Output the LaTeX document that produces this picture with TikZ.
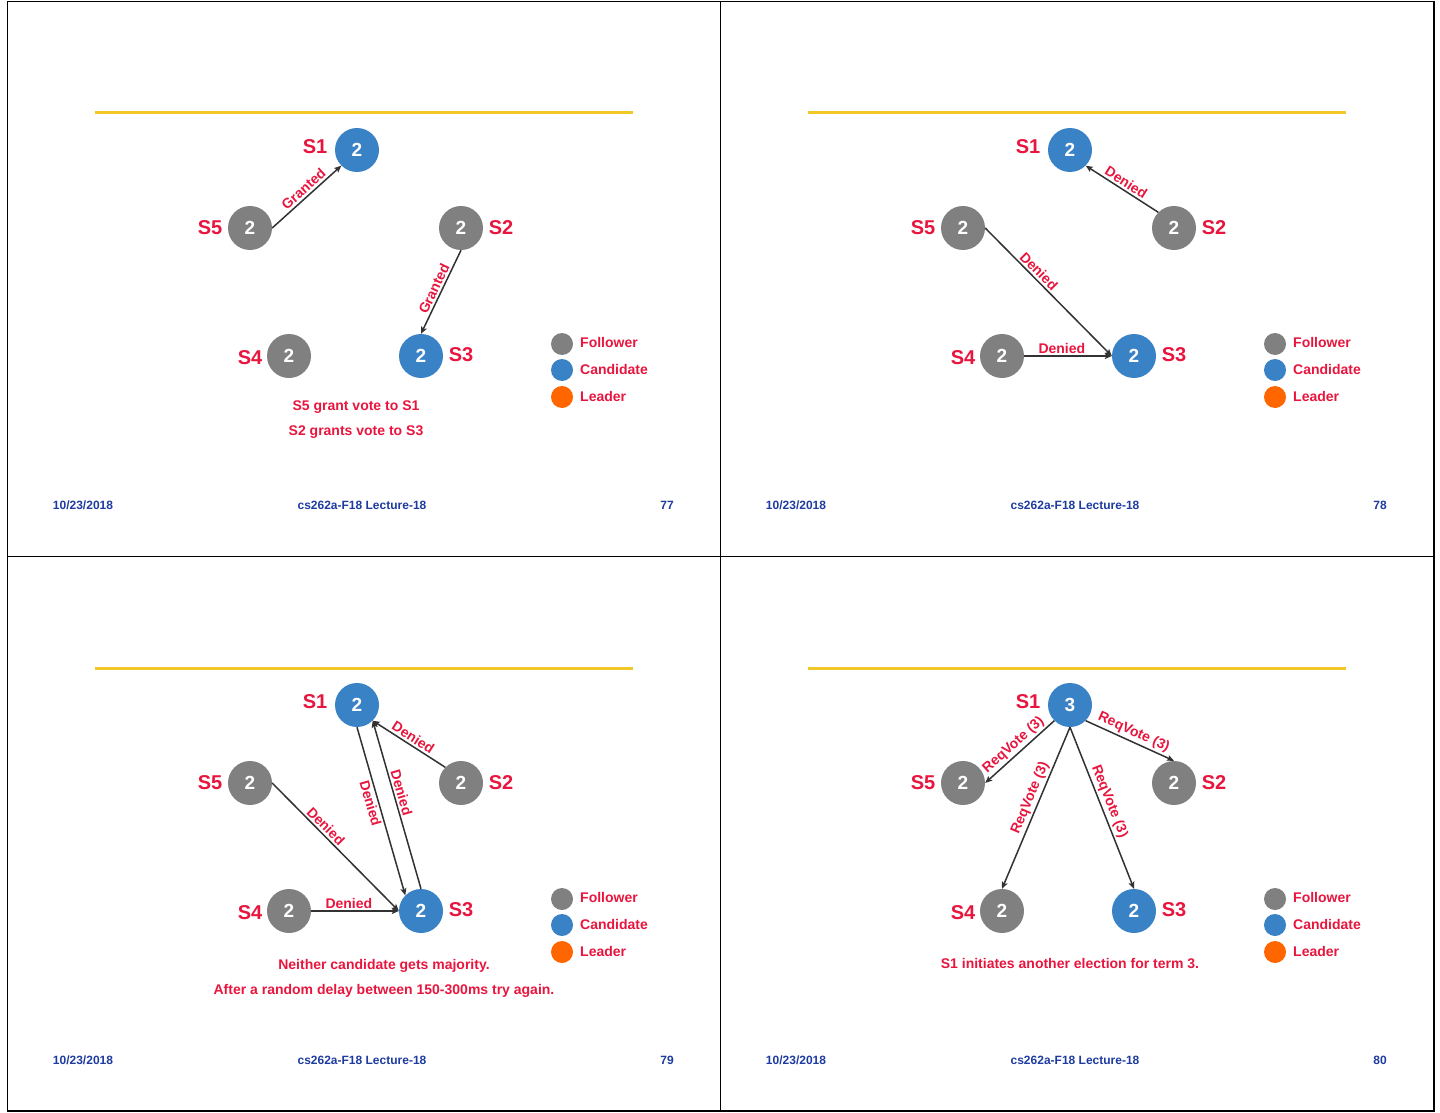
\documentclass[tikz,border=0pt]{standalone}
\usepackage{fontspec}
\setmainfont{Liberation Sans}
\usetikzlibrary{arrows.meta}
\definecolor{rd}{RGB}{232,22,62}
\definecolor{fgray}{RGB}{128,128,128}
\definecolor{cblue}{RGB}{58,130,198}
\definecolor{lorange}{RGB}{255,102,0}
\definecolor{gold}{RGB}{242,200,40}
\definecolor{fblue}{RGB}{30,60,160}
\definecolor{edgec}{RGB}{50,50,50}
\tikzset{
 srv/.style={circle,minimum size=44pt,inner sep=0pt,text=white,font=\fontsize{19}{19}\selectfont\bfseries},
 fol/.style={srv,fill=fgray},
 cand/.style={srv,fill=cblue},
 sname/.style={text=rd,font=\fontsize{20}{20}\selectfont\bfseries,inner sep=0pt},
 msg/.style={draw=edgec,line width=1.5pt,-{Stealth[length=7pt,width=6pt,inset=1.5pt]}},
 elbl/.style={text=rd,font=\fontsize{14}{14}\selectfont\bfseries,sloped,inner sep=2pt},
 note/.style={text=rd,font=\fontsize{14}{14}\selectfont\bfseries,inner sep=0pt},
 foot/.style={text=fblue,font=\fontsize{12}{12}\selectfont\bfseries,inner sep=0pt},
 legdot/.style={circle,minimum size=22pt,inner sep=0pt},
 legtxt/.style={text=rd,font=\fontsize{14}{14}\selectfont\bfseries,anchor=west,inner sep=0pt},
 bar/.style={draw=gold,line width=3pt},
 frame/.style={draw=black,line width=1.6pt}
}
% servers of one panel: #1 prefix, #2 term of S1
\newcommand\servers[2]{%
 \node[cand] (#11) at (357,150) {#2};
 \node[fol]  (#12) at (461,228) {2};
 \node[cand] (#13) at (421,356) {2};
 \node[fol]  (#14) at (289,356) {2};
 \node[fol]  (#15) at (250,228) {2};
 \node[sname] (#1n1) at (315,147) {S1};
 \node[sname] (#1n2) at (501,228) {S2};
 \node[sname] (#1n3) at (461,355) {S3};
 \node[sname] (#1n4) at (250,358) {S4};
 \node[sname] (#1n5) at (210,228) {S5};
}
\newcommand\panelbase[2]{%
 \draw[bar] (95,113) -- (633,113);
 \node[legdot,fill=fgray]   (#1df) at (562,344) {};
 \node[legdot,fill=cblue]   (#1dc) at (562,370) {};
 \node[legdot,fill=lorange] (#1dl) at (562,397) {};
 \node[legtxt] (#1tf) at (580,342) {Follower};
 \node[legtxt] (#1tc) at (580,369) {Candidate};
 \node[legtxt] (#1tl) at (580,396) {Leader};
 \node[foot] (#1date) at (83,505) {10/23/2018};
 \node[foot] (#1lec) at (362,505) {cs262a-F18 Lecture-18};
 \node[foot] (#1num) at (667,505) {#2};
}
\begin{document}
\begin{tikzpicture}[x=1pt,y=-1pt]
\fill[white] (0,0) rectangle (1440,1113);
\useasboundingbox (0,0) rectangle (1440,1113);
\draw[frame] (7.5,1.5) rectangle (1434,1111);
\draw[frame] (720.5,1.5) -- (720.5,1111);
\draw[frame] (7.5,556.5) -- (1434,556.5);

% panel 77
\begin{scope}
 \panelbase{A}{77}
 \servers{A}{2}
 \draw[msg] (A5.east) -- node[elbl,above,pos=.53]{Granted} (A1.south west);
 \draw[msg] (A2.south) -- node[elbl,above]{Granted} (A3.north);
 \node[note] (An1) at (356,407) {S5 grant vote to S1};
 \node[note] (An2) at (356,432) {S2 grants vote to S3};
\end{scope}

% panel 78
\begin{scope}[shift={(713,0)}]
 \panelbase{B}{78}
 \servers{B}{2}
 \draw[msg] (B2.north west) -- node[elbl,above]{Denied} (B1.south east);
 \draw[msg] (B5.east) -- node[elbl,above,pos=.38]{Denied} (B3.west);
 \draw[msg] (B4.east) -- node[elbl,above,pos=.43]{Denied} (B3.west);
\end{scope}

% panel 79
\begin{scope}[shift={(0,555)}]
 \panelbase{C}{79}
 \servers{C}{2}
 \draw[msg] (C2.north west) -- node[elbl,above]{Denied} (C1.south east);
 \draw[msg] (C5.east) -- node[elbl,above,pos=.38]{Denied} (C3.west);
 \draw[msg] (C4.east) -- node[elbl,above,pos=.43]{Denied} (C3.west);
 \draw[msg] (C1.south) -- node[elbl,below,pos=.44]{Denied} (C3.north west);
 \draw[msg] (C3.north) -- node[elbl,above,pos=.56]{Denied} (C1.south east);
 \node[note] (Cn1) at (384,411) {Neither candidate gets majority.};
 \node[note] (Cn2) at (384,436) {After a random delay between 150-300ms try again.};
\end{scope}

% panel 80
\begin{scope}[shift={(713,555)}]
 \panelbase{D}{80}
 \servers{D}{3}
 \draw[msg] (D1.south west) -- node[elbl,above]{ReqVote (3)} (D5.east);
 \draw[msg] (D1.south east) -- node[elbl,above]{ReqVote (3)} (D2.north);
 \draw[msg] (D1.south) -- node[elbl,above,pos=.46]{ReqVote (3)} (D4.north);
 \draw[msg] (D1.south) -- node[elbl,above,pos=.48]{ReqVote (3)} (D3.north);
 \node[note] (Dn1) at (357,408) {S1 initiates another election for term 3.};
\end{scope}
\end{tikzpicture}
\end{document}
